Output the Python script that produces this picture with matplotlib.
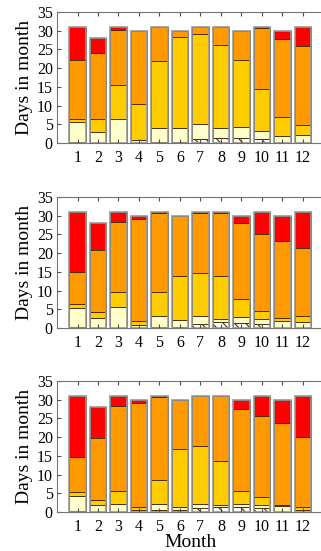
import numpy as np
import matplotlib
matplotlib.use('Agg')
import matplotlib.pyplot as plt

plt.rcParams['font.family'] = ['Liberation Serif', 'DejaVu Serif']
plt.rcParams['hatch.linewidth'] = 0.8

months = np.arange(1, 13)
month_labels = [str(m) for m in months]

# cumulative tops of each layer (hatched, light yellow, gold, orange, total)
p1_hatch = [0.2, 0.0, 0.0, 0.0, 0.2, 0.3, 1.1, 1.3, 1.3, 1.1, 0.0, 0.0]
p1_light = [5.5, 3.0, 6.5, 0.8, 4.0, 3.9, 5.0, 4.0, 4.4, 3.1, 1.9, 2.2]
p1_gold = [6.5, 6.5, 15.4, 10.3, 21.8, 28.2, 29.1, 26.3, 22.2, 14.5, 6.9, 4.9]
p1_orange = [22.2, 24.0, 30.1, 30.0, 31.0, 30.0, 31.0, 31.0, 30.0, 30.8, 27.9, 25.8]
p1_total = [31, 28, 31, 30, 31, 30, 31, 31, 30, 31, 30, 31]

p2_hatch = [0.2, 0.0, 0.0, 0.0, 0.3, 0.3, 1.1, 1.6, 1.3, 1.0, 0.0, 0.0]
p2_light = [5.3, 2.8, 5.7, 0.9, 3.2, 2.1, 3.2, 2.3, 3.0, 2.5, 1.9, 1.6]
p2_gold = [6.4, 4.4, 9.7, 1.8, 9.6, 13.8, 14.8, 13.8, 7.7, 4.6, 2.7, 3.1]
p2_orange = [15.1, 20.8, 28.3, 29.1, 30.8, 30.0, 30.8, 30.7, 28.1, 25.2, 23.2, 21.4]
p2_total = [31, 28, 31, 30, 31, 30, 31, 31, 30, 31, 30, 31]

p3_hatch = [0.3, 0.0, 0.0, 0.0, 0.4, 0.4, 1.1, 1.4, 1.4, 1.1, 0.0, 0.0]
p3_light = [4.4, 2.0, 2.2, 0.5, 2.2, 1.3, 2.2, 2.0, 2.2, 2.0, 1.6, 0.6]
p3_gold = [5.3, 3.2, 5.5, 1.4, 8.6, 16.7, 17.6, 13.5, 5.7, 4.0, 1.8, 1.4]
p3_orange = [14.6, 19.8, 28.4, 29.1, 30.8, 30.0, 31.0, 31.0, 27.5, 25.6, 23.7, 20.0]
p3_total = [31, 28, 31, 30, 31, 30, 31, 31, 30, 31, 30, 31]

panels = [
    (p1_hatch, p1_light, p1_gold, p1_orange, p1_total),
    (p2_hatch, p2_light, p2_gold, p2_orange, p2_total),
    (p3_hatch, p3_light, p3_gold, p3_orange, p3_total),
]

colors = ['white', '#FFFFCC', '#FFCC00', '#FF9900', '#FF0000']
edge = '#4a3000'
width = 0.8

fig = plt.figure(figsize=(3.21, 5.51), dpi=100)
positions = [(0.1776, 0.7405, 0.83, 0.2377),
             (0.1776, 0.4047, 0.83, 0.2377),
             (0.1776, 0.0708, 0.83, 0.2377)]

for k, (pos, layers) in enumerate(zip(positions, panels)):
    ax = fig.add_axes(pos)
    tops = np.array(layers, dtype=float)
    bottoms = np.vstack([np.zeros(12), tops[:-1]])
    for i in range(5):
        h = tops[i] - bottoms[i]
        ax.bar(months, h, width, bottom=bottoms[i], color=colors[i],
               edgecolor=edge, linewidth=0.7,
               hatch='\\\\\\' if i == 0 else None)
    ax.bar(months, tops[-1], width, facecolor='none', edgecolor='0.6',
           linewidth=1.2)

    ax.set_xlim(0, 13)
    ax.set_ylim(0, 35)
    ax.set_yticks(range(0, 36, 5))
    ax.set_xticks(months)
    ax.set_xticklabels(month_labels)
    ax.tick_params(direction='in', labelsize=11.5, top=True, length=3,
                   color='0.3')
    ax.tick_params(axis='x', pad=5)
    ax.tick_params(axis='y', pad=3)
    for s in ax.spines.values():
        s.set_color('0.45')
        s.set_linewidth(0.8)
    ax.set_ylabel('Days in month', fontsize=14, labelpad=3)
    if k == 2:
        ax.set_xlabel('Month', fontsize=14, labelpad=-1)

fig.savefig('out.png', dpi=100)
